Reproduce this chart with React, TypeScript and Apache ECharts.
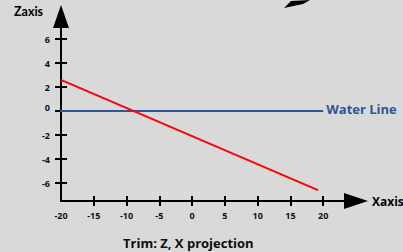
import React, { useEffect, useRef } from "react";
import * as echarts from "echarts";

const xTicks = [-15, -10, -5, 0, 5, 10, 15, 20];
const xLabels = [-20, -15, -10, -5, 0, 5, 10, 15, 20];
const zTicks = [-6, -4, -2, 0, 2, 4, 6];
const trimX = [-20, 19.2];
const trimZ = [2.6, -6.6];
const waterX = [-25, 20];
const waterZ = [0, 0];

const FONT = "Open Sans";
const FONT2 = "Lato";

export default function App() {
  const ref = useRef<HTMLDivElement>(null);
  useEffect(() => {
    if (!ref.current) return;
    const chart = echarts.init(ref.current, null, { renderer: "svg" });
    const gridGeom = { left: 61, right: 47, top: 16.5, bottom: 51, outerBoundsMode: "none" as any };
    const xBase = { type: "value" as const, min: -20, max: 25, splitLine: { show: false } };
    const yBase = { type: "value" as const, min: -7.5, max: 7.875, splitLine: { show: false } };
    chart.setOption({
      animation: false,
      backgroundColor: "#d9d9d9",
      grid: [gridGeom, gridGeom],
      title: {
        text: "Trim: Z, X projection",
        left: 123,
        top: 236,
        padding: 0,
        textStyle: { fontFamily: FONT, fontWeight: "bold", fontSize: 13, color: "#0d0d0d" },
      },
      xAxis: [
        {
          ...xBase,
          gridIndex: 0,
          name: "Xaxis",
          nameLocation: "end",
          nameGap: 16,
          nameTextStyle: { fontFamily: FONT, fontWeight: "bold", fontSize: 12, color: "#000" },
          axisLine: {
            show: true,
            onZero: false,
            symbol: ["none", "triangle"],
            symbolSize: [16, 24],
            lineStyle: { color: "#000", width: 2 },
          },
          axisTick: { show: true, inside: false, length: 5, customValues: xTicks, lineStyle: { color: "#000", width: 2 } },
          axisLabel: {
            show: true,
            customValues: xLabels,
            margin: 10,
            fontFamily: FONT,
            fontWeight: "bold",
            fontSize: 9,
            color: "#111",
          },
        },
        {
          ...xBase,
          gridIndex: 1,
          axisLine: { show: false, onZero: false },
          axisTick: { show: true, inside: true, length: 5, customValues: xTicks, lineStyle: { color: "#000", width: 2 } },
          axisLabel: { show: false },
        },
      ],
      yAxis: [
        {
          ...yBase,
          gridIndex: 0,
          axisLine: {
            show: true,
            onZero: false,
            symbol: ["none", "triangle"],
            symbolSize: [16, 23],
            lineStyle: { color: "#000", width: 2 },
          },
          axisTick: { show: true, inside: false, length: 6, customValues: zTicks, lineStyle: { color: "#000", width: 2 } },
          axisLabel: {
            show: true,
            customValues: zTicks,
            margin: 11,
            fontFamily: FONT,
            fontWeight: "bold",
            fontSize: 9,
            color: "#111",
            formatter: (v: number) => (v === 0 ? "{z|0}" : String(v)),
            rich: {
              z: { fontFamily: FONT, fontWeight: "bold", fontSize: 9, color: "#111", padding: [0, 0, 8, 0] },
            },
          },
        },
        {
          ...yBase,
          gridIndex: 1,
          axisLine: { show: false, onZero: false },
          axisTick: { show: true, inside: true, length: 6, customValues: zTicks, lineStyle: { color: "#000", width: 2 } },
          axisLabel: { show: false },
        },
      ],
      series: [
        {
          type: "line",
          xAxisIndex: 0,
          yAxisIndex: 0,
          data: waterX.map((x, i) => [x, waterZ[i]]),
          showSymbol: false,
          clip: false,
          lineStyle: { color: "#2f5597", width: 2 },
          endLabel: {
            show: true,
            formatter: "Water Line",
            distance: 3,
            offset: [0, -2],
            fontFamily: FONT,
            fontWeight: "bold",
            fontSize: 13,
            color: "#2f5597",
          },
          z: 3,
        },
        {
          type: "line",
          xAxisIndex: 0,
          yAxisIndex: 0,
          data: trimX.map((x, i) => [x, trimZ[i]]),
          showSymbol: false,
          clip: false,
          lineStyle: { color: "#ff0000", width: 2 },
          z: 4,
        },
        {
          type: "scatter",
          xAxisIndex: 1,
          yAxisIndex: 1,
          data: [],
        },
      ],
      graphic: [
        {
          type: "text",
          left: 14,
          top: 5,
          style: { text: "Zaxis", fontFamily: FONT2, fontWeight: "bold", fontSize: 12.5, fill: "#000" },
        },
        {
          type: "polygon",
          shape: { points: [[284, 8], [291, 1], [310, 0], [303, 4]] },
          style: { fill: "#000" },
        },
      ],
    });
    return () => chart.dispose();
  }, []);
  return (
    <div
      ref={ref}
      style={{ position: "fixed", left: 0, top: 0, width: 403, height: 252 }}
    />
  );
}
